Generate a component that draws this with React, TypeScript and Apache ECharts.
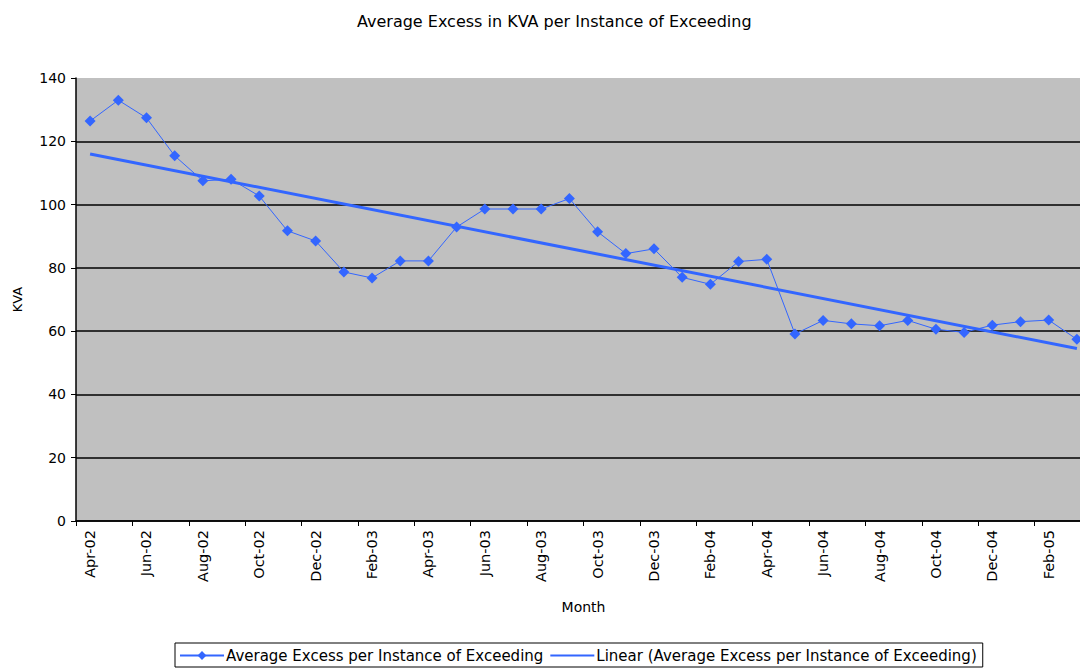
import React, { useEffect, useRef } from "react";
import * as echarts from "echarts";

const months = [
  "Apr-02", "May-02", "Jun-02", "Jul-02", "Aug-02", "Sep-02", "Oct-02", "Nov-02", "Dec-02",
  "Jan-03", "Feb-03", "Mar-03", "Apr-03", "May-03", "Jun-03", "Jul-03", "Aug-03", "Sep-03",
  "Oct-03", "Nov-03", "Dec-03", "Jan-04", "Feb-04", "Mar-04", "Apr-04", "May-04", "Jun-04",
  "Jul-04", "Aug-04", "Sep-04", "Oct-04", "Nov-04", "Dec-04", "Jan-05", "Feb-05", "Mar-05",
];

const averageExcess = [
  126.4, 133, 127.4, 115.4, 107.5, 108, 102.7, 91.7, 88.5,
  78.7, 76.8, 82.2, 82.2, 92.9, 98.6, 98.6, 98.6, 101.9,
  91.4, 84.5, 86, 77, 74.8, 82, 82.7, 59.1, 63.4,
  62.3, 61.7, 63.4, 60.6, 59.6, 61.9, 63, 63.5, 57.4,
];

// Trend line end points (first and last month)
const trendStart = 116.0;
const trendEnd = 54.5;

const seriesName = "Average Excess per Instance of Exceeding";
const trendName = "Linear (Average Excess per Instance of Exceeding)";
const titleText = "Average Excess in KVA per Instance of Exceeding";

const FONT = "DejaVu Sans, Verdana, sans-serif";
const BLUE = "#3366FF";

export default function App() {
  const ref = useRef<HTMLDivElement>(null);
  useEffect(() => {
    if (!ref.current) return;
    const chart = echarts.init(ref.current, undefined, { renderer: "svg" });
    const trendData = months.map((_, i) =>
      i === 0 ? trendStart : i === months.length - 1 ? trendEnd : null
    );
    chart.setOption({
      animation: false,
      backgroundColor: "#ffffff",
      textStyle: { fontFamily: FONT },
      title: {
        text: titleText,
        left: 352,
        top: 8,
        textStyle: { fontFamily: FONT, fontSize: 16, fontWeight: "normal", color: "#000" },
      },
      legend: {
        left: 175,
        top: 643,
        data: [seriesName, trendName],
        borderColor: "#000",
        borderWidth: 1,
        padding: [5, 6, 4, 4],
        itemWidth: 44,
        itemHeight: 11,
        itemGap: 6,
        textStyle: { fontFamily: FONT, fontSize: 15, color: "#000", padding: [0, 0, 0, -3] },
      },
      grid: {
        left: 76,
        top: 78,
        right: 0,
        bottom: 149,
        show: true,
        backgroundColor: "#C0C0C0",
        borderWidth: 0,
      },
      xAxis: {
        type: "category",
        data: months,
        boundaryGap: true,
        name: "Month",
        nameLocation: "middle",
        nameGap: 79,
        nameTextStyle: { fontFamily: FONT, fontSize: 14, color: "#000" },
        axisLine: { show: true, lineStyle: { color: "#000", width: 1.5 } },
        axisTick: { show: true, interval: 1, length: 5, lineStyle: { color: "#000" } },
        axisLabel: {
          interval: 1,
          rotate: 90,
          fontFamily: FONT,
          fontSize: 14.5,
          color: "#000",
          margin: 9,
        },
        splitLine: { show: false },
      },
      yAxis: {
        type: "value",
        min: 0,
        max: 140,
        interval: 20,
        name: "KVA",
        nameLocation: "middle",
        nameGap: 52,
        nameRotate: 90,
        nameTextStyle: { fontFamily: FONT, fontSize: 13, color: "#000" },
        axisLine: { show: true, lineStyle: { color: "#000", width: 1.5 } },
        axisTick: { show: true, length: 5, lineStyle: { color: "#000" } },
        axisLabel: { fontFamily: FONT, fontSize: 14, color: "#000", margin: 10 },
        splitLine: { show: true, showMaxLine: false, lineStyle: { color: "#000", width: 1.5 } },
      },
      series: [
        {
          name: seriesName,
          type: "line",
          data: averageExcess,
          symbol: "diamond",
          symbolSize: 11,
          itemStyle: { color: BLUE },
          lineStyle: { color: BLUE, width: 1 },
          z: 3,
        },
        {
          name: trendName,
          type: "line",
          data: trendData,
          connectNulls: true,
          symbol: "circle",
          showSymbol: false,
          itemStyle: { color: "rgba(0,0,0,0)", borderWidth: 0 },
          lineStyle: { color: BLUE, width: 3 },
          z: 2,
        },
      ],
    });
    return () => chart.dispose();
  }, []);
  return (
    <div
      ref={ref}
      style={{ position: "fixed", left: 0, top: 0, width: 1091, height: 670 }}
    />
  );
}
